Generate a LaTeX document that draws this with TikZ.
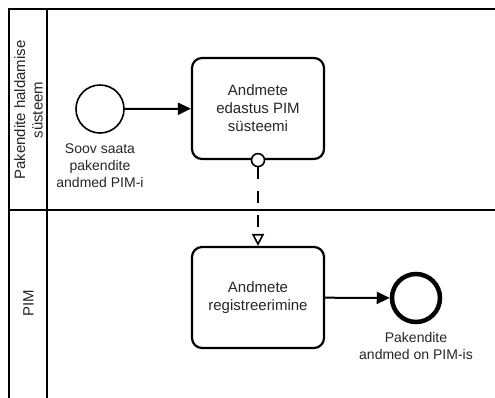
\documentclass[tikz,border=0pt]{standalone}
\usepackage{fontspec}
\setmainfont{Liberation Sans}
\usetikzlibrary{arrows.meta}
\begin{document}
\begin{tikzpicture}[x=1pt,y=-1pt,
  lane/.style={line width=2.5pt, line cap=rect},
  task/.style={draw, line width=2.2pt, rounded corners=10pt, minimum width=132pt,
    minimum height=101pt, align=center, inner sep=0pt,
    font=\fontsize{15}{18}\selectfont, text=black!85},
  startev/.style={draw, circle, line width=1.6pt, minimum size=48pt, inner sep=0pt},
  endev/.style={draw, circle, line width=4.5pt, minimum size=48pt, inner sep=0pt},
  evlabel/.style={align=center, inner sep=0pt, font=\fontsize{14}{17}\selectfont, text=black!85},
  lanelabel/.style={align=center, inner sep=0pt, rotate=90, font=\fontsize{15}{17.5}\selectfont, text=black!85},
  seqflow/.style={line width=2pt, -{Triangle[length=13pt,width=12pt]}},
  msgflow/.style={line width=1.8pt, dash pattern=on 12pt off 12pt,
    -{Triangle[open,length=12pt,width=12pt,line width=1.6pt]}},
  msgdot/.style={draw, circle, fill=white, line width=1.6pt, minimum size=13pt, inner sep=0pt}]
  \useasboundingbox (0,0) rectangle (495,397);

  % pool frame and lanes
  \coordinate (tl) at (9,9);
  \coordinate (tr) at (495,9);
  \coordinate (bl) at (9,397);
  \coordinate (hd) at (47,9);
  \coordinate (hb) at (47,397);
  \coordinate (ml) at (9,210);
  \coordinate (mr) at (495,210);
  \draw[lane] (bl) -- (tl) -- (tr);
  \draw[lane] (hd) -- (hb);
  \draw[lane] (ml) -- (mr);

  \node[lanelabel] (l1) at (28.5,110) {Pakendite haldamise\\süsteem};
  \node[lanelabel] (l2) at (28.5,303) {PIM};

  % upper lane
  \node[startev] (s) at (100,109) {};
  \node[evlabel] (sl) at (100,165.5) {Soov saata\\pakendite\\andmed PIM-i};
  \node[task] (t1) at (258,108.5) {Andmete\\edastus PIM\\süsteemi};
  \draw[seqflow] (s) -- (t1);

  % lower lane
  \node[task] (t2) at (258,297.5) {Andmete\\registreerimine};
  \node[endev] (e) at (416,298) {};
  \node[evlabel] (el) at (416,345.5) {Pakendite\\andmed on PIM-is};
  \draw[seqflow] (t2) -- (e);

  % message flow between lanes
  \node[msgdot] (md) at (t1.south) {};
  \draw[msgflow] (md.south) -- (t2.north);
\end{tikzpicture}
\end{document}
